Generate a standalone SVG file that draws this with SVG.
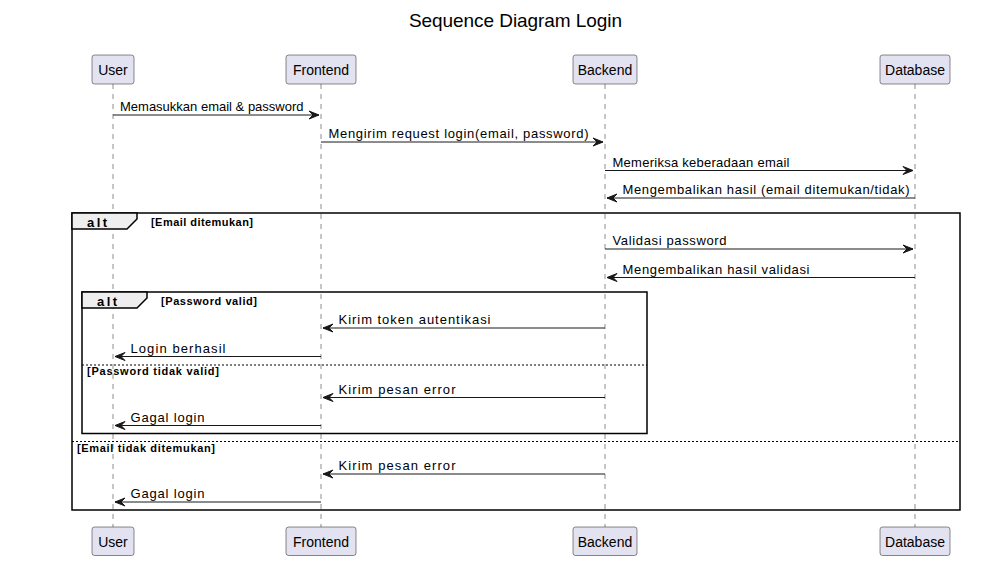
<svg xmlns="http://www.w3.org/2000/svg" width="988" height="583" viewBox="0 0 988 583">
<style>
.bg{fill:#FFFFFF}
.title{font-family:"Liberation Sans",Arial,sans-serif;font-size:19px;fill:#000000}
.part rect{fill:#E2E2F0;stroke:#181818;stroke-width:0.5}
.part text{font-family:"Liberation Sans",Arial,sans-serif;font-size:14px;fill:#000000;text-anchor:middle}
.life{stroke:#181818;stroke-width:0.5;stroke-dasharray:5,5;fill:none}
.msg line{stroke:#181818;stroke-width:1}
.msg polygon{fill:#181818;stroke:#181818;stroke-width:1}
.msg text{font-family:"Liberation Sans",Arial,sans-serif;font-size:13px;fill:#000000}
.frame{fill:none;stroke:#000000;stroke-width:1.5}
.tab{fill:#EEEEEE;stroke:#000000;stroke-width:1.5}
.alt{font-family:"Liberation Sans",Arial,sans-serif;font-size:13px;font-weight:bold;fill:#000000;letter-spacing:2.5px}
.guard{font-family:"Liberation Sans",Arial,sans-serif;font-size:11px;font-weight:bold;fill:#000000}
.sep{stroke:#000000;stroke-width:1;stroke-dasharray:2,2;fill:none}
</style>
<rect class="bg" x="0" y="0" width="988" height="583"/>
<text class="title" x="515.5" y="27" text-anchor="middle" textLength="213" lengthAdjust="spacing">Sequence Diagram Login</text>

<g id="lifelines">
<line class="life" x1="113" y1="84" x2="113" y2="527"/>
<line class="life" x1="321" y1="84" x2="321" y2="527"/>
<line class="life" x1="605" y1="84" x2="605" y2="527"/>
<line class="life" x1="915" y1="84" x2="915" y2="527"/>
</g>

<g id="frames">
<g id="alt-email">
<rect class="frame" x="72" y="213" width="888" height="297"/>
<polygon class="tab" points="72,213 137,213 137,219 127,229 72,229"/>
<text class="alt" x="87" y="227">alt</text>
<text class="guard" x="151" y="226" textLength="102" lengthAdjust="spacing">[Email ditemukan]</text>
<line class="sep" x1="72" y1="441.5" x2="960" y2="441.5"/>
<text class="guard" x="77" y="452" textLength="138" lengthAdjust="spacing">[Email tidak ditemukan]</text>
</g>
<g id="alt-password">
<rect class="frame" x="82" y="292" width="565" height="141.5"/>
<polygon class="tab" points="82,292 147,292 147,298 137,308 82,308"/>
<text class="alt" x="97" y="306">alt</text>
<text class="guard" x="161" y="305" textLength="96" lengthAdjust="spacing">[Password valid]</text>
<line class="sep" x1="82" y1="365" x2="647" y2="365"/>
<text class="guard" x="87" y="375" textLength="132" lengthAdjust="spacing">[Password tidak valid]</text>
</g>
</g>

<g id="participants">
<g id="user" class="part">
<rect x="92" y="55" width="42" height="29" rx="2.5"/>
<text x="113" y="75">User</text>
<rect x="92" y="527" width="42" height="28.5" rx="2.5"/>
<text x="113" y="547">User</text>
</g>
<g id="frontend" class="part">
<rect x="286" y="55" width="70" height="29" rx="2.5"/>
<text x="321" y="75">Frontend</text>
<rect x="286" y="527" width="70" height="28.5" rx="2.5"/>
<text x="321" y="547">Frontend</text>
</g>
<g id="backend" class="part">
<rect x="573" y="55" width="64" height="29" rx="2.5"/>
<text x="605" y="75">Backend</text>
<rect x="573" y="527" width="64" height="28.5" rx="2.5"/>
<text x="605" y="547">Backend</text>
</g>
<g id="database" class="part">
<rect x="880" y="55" width="70" height="29" rx="2.5"/>
<text x="915" y="75">Database</text>
<rect x="880" y="527" width="70" height="28.5" rx="2.5"/>
<text x="915" y="547">Database</text>
</g>
</g>

<g id="connectors">
<g class="msg">
<line x1="113" y1="115" x2="319" y2="115"/>
<polygon points="309,111 319,115 309,119 313,115"/>
<text x="120" y="111">Memasukkan email &amp; password</text>
</g>
<g class="msg">
<line x1="321" y1="142" x2="603" y2="142"/>
<polygon points="593,138 603,142 593,146 597,142"/>
<text x="328.5" y="138" textLength="260" lengthAdjust="spacing">Mengirim request login(email, password)</text>
</g>
<g class="msg">
<line x1="605" y1="170.5" x2="913" y2="170.5"/>
<polygon points="903,166.5 913,170.5 903,174.5 907,170.5"/>
<text x="612.5" y="166.5" textLength="177" lengthAdjust="spacing">Memeriksa keberadaan email</text>
</g>
<g class="msg">
<line x1="915" y1="198" x2="607" y2="198"/>
<polygon points="617,194 607,198 617,202 613,198"/>
<text x="622.5" y="194" textLength="287" lengthAdjust="spacing">Mengembalikan hasil (email ditemukan/tidak)</text>
</g>
<g class="msg">
<line x1="605" y1="249" x2="913" y2="249"/>
<polygon points="903,245 913,249 903,253 907,249"/>
<text x="612.5" y="245" textLength="114" lengthAdjust="spacing">Validasi password</text>
</g>
<g class="msg">
<line x1="915" y1="277.5" x2="607" y2="277.5"/>
<polygon points="617,273.5 607,277.5 617,281.5 613,277.5"/>
<text x="622.5" y="273.5" textLength="187" lengthAdjust="spacing">Mengembalikan hasil validasi</text>
</g>
<g class="msg">
<line x1="605" y1="328" x2="323" y2="328"/>
<polygon points="333,324 323,328 333,332 329,328"/>
<text x="338.5" y="324" textLength="152" lengthAdjust="spacing">Kirim token autentikasi</text>
</g>
<g class="msg">
<line x1="321" y1="356.5" x2="115" y2="356.5"/>
<polygon points="125,352.5 115,356.5 125,360.5 121,356.5"/>
<text x="130.5" y="352.5" textLength="95" lengthAdjust="spacing">Login berhasil</text>
</g>
<g class="msg">
<line x1="605" y1="397.5" x2="323" y2="397.5"/>
<polygon points="333,393.5 323,397.5 333,401.5 329,397.5"/>
<text x="338.5" y="393.5" textLength="117" lengthAdjust="spacing">Kirim pesan error</text>
</g>
<g class="msg">
<line x1="321" y1="425.5" x2="115" y2="425.5"/>
<polygon points="125,421.5 115,425.5 125,429.5 121,425.5"/>
<text x="130.5" y="421.5" textLength="74" lengthAdjust="spacing">Gagal login</text>
</g>
<g class="msg">
<line x1="605" y1="474" x2="323" y2="474"/>
<polygon points="333,470 323,474 333,478 329,474"/>
<text x="338.5" y="470" textLength="117" lengthAdjust="spacing">Kirim pesan error</text>
</g>
<g class="msg">
<line x1="321" y1="502" x2="115" y2="502"/>
<polygon points="125,498 115,502 125,506 121,502"/>
<text x="130.5" y="498" textLength="74" lengthAdjust="spacing">Gagal login</text>
</g>
</g>
</svg>
